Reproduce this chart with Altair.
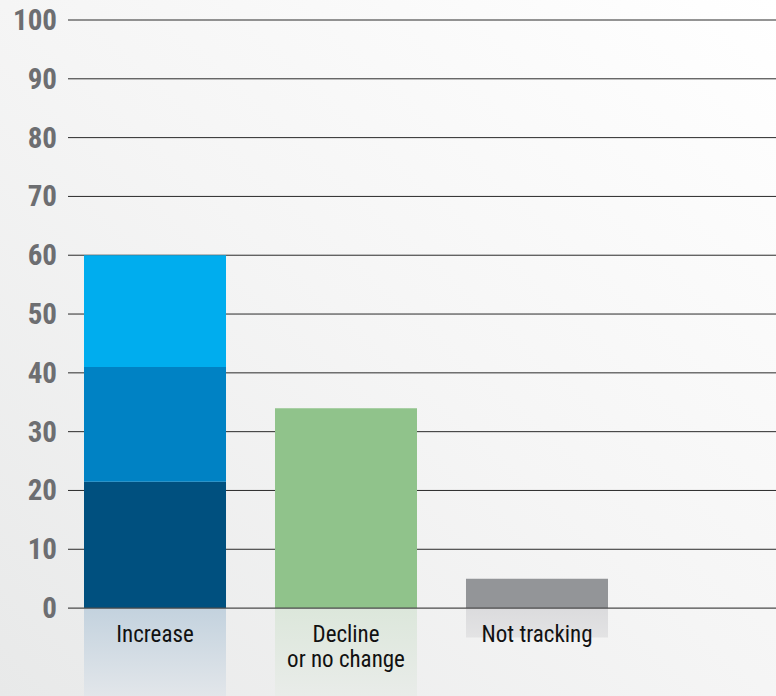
import altair as alt
import pandas as pd

# ---- data ----
categories = ["Increase", "Decline or no change", "Not tracking"]
label_text = ["Increase", "Decline\nor no change", "Not tracking"]
segments = ["Increase – part 1", "Increase – part 2", "Increase – part 3", "Decline or no change", "Not tracking"]
segment_category = ["Increase", "Increase", "Increase", "Decline or no change", "Not tracking"]
segment_values = [21.5, 19.5, 19.0, 34, 5]
segment_order = [1, 2, 3, 1, 1]
y_ticks = [0, 10, 20, 30, 40, 50, 60, 70, 80, 90, 100]

# ---- styles ----
seg_colors = ["#00507f", "#0082c4", "#00adee", "#90c38b", "#939598"]
FONT = "Liberation Sans Narrow, Roboto Condensed, DejaVu Sans Condensed, Arial Narrow, sans-serif"
W, H = 708, 676
Y_MIN = -14.95

bars_df = pd.DataFrame({
    "category": segment_category,
    "segment": segments,
    "value": segment_values,
    "order": segment_order,
})
totals_df = bars_df.groupby("category", as_index=False)["value"].sum()
labels_df = pd.DataFrame({"category": categories, "label": label_text})
ticks_df = pd.DataFrame({"tick": y_ticks})

x_scale = alt.Scale(domain=categories, range=[16, 540], paddingInner=0.2565, paddingOuter=0)
y_scale = alt.Scale(domain=[Y_MIN, 100], nice=False, zero=False)

x_enc = alt.X("category:N", sort=categories, scale=x_scale, axis=None)

background = alt.Chart(alt.Data(values=[{}])).mark_rect(
    color=alt.Gradient(
        gradient="linear",
        stops=[alt.GradientStop(color="#e8e9e9", offset=0),
               alt.GradientStop(color="#f5f5f5", offset=0.5),
               alt.GradientStop(color="#ffffff", offset=1)],
        x1=0, y1=1, x2=1, y2=0,
    )
).encode(x=alt.value(-68), x2=alt.value(W), y=alt.value(-20), y2=alt.value(H))

grid = alt.Chart(ticks_df).transform_filter(alt.datum.tick > 0).mark_rule(
    color="#2a2a2a", strokeWidth=1
).encode(y=alt.Y("tick:Q", scale=y_scale, axis=None))

zero_line = alt.Chart(ticks_df).transform_filter(alt.datum.tick == 0).mark_rule(
    color="#4a4a4a", strokeWidth=1.2
).encode(y=alt.Y("tick:Q", scale=y_scale, axis=None))

tick_labels = alt.Chart(ticks_df).mark_text(
    font=FONT, fontSize=29, fontWeight="bold", color="#6d6e71",
    align="right", baseline="middle", dy=1,
).encode(
    x=alt.value(-11),
    y=alt.Y("tick:Q", scale=y_scale, axis=None),
    text=alt.Text("tick:Q"),
)

bars = alt.Chart(bars_df).mark_bar().encode(
    x=x_enc,
    y=alt.Y("value:Q", stack="zero", scale=y_scale, axis=None),
    color=alt.Color("segment:N", scale=alt.Scale(domain=segments, range=seg_colors), legend=None),
    order=alt.Order("order:Q"),
)

def reflection(cat, top, bottom):
    return alt.Chart(totals_df).transform_filter(
        alt.datum.category == cat
    ).transform_calculate(
        refl="-min(datum.value, 14.95)"
    ).mark_bar(
        clip=True,
        color=alt.Gradient(
            gradient="linear",
            stops=[alt.GradientStop(color=top, offset=0), alt.GradientStop(color=bottom, offset=1)],
            x1=0, y1=0, x2=0, y2=1,
        ),
    ).encode(x=x_enc, y=alt.Y("refl:Q", scale=y_scale, axis=None))

refl_inc = reflection("Increase", "#c3d2de", "#e2e6ea")
refl_dec = reflection("Decline or no change", "#dce7db", "#e9ece9")
refl_not = reflection("Not tracking", "#dbdbdd", "#e3e3e4")

labels = alt.Chart(labels_df).mark_text(
    font=FONT, fontSize=23, color="#111111", baseline="alphabetic", align="center",
    lineBreak="\n", lineHeight=25,
).encode(x=x_enc, y=alt.value(622), text="label:N")

chart = alt.layer(background, grid, refl_inc, refl_dec, refl_not, bars, zero_line,
                  tick_labels, labels).properties(
    width=W, height=H,
    autosize=alt.AutoSizeParams(type="none"),
    padding={"left": 68, "top": 20, "right": 0, "bottom": 0},
    background="#ffffff",
).configure_view(stroke=None)

chart.save("out.html", embed_options={"renderer": "svg", "actions": False})
